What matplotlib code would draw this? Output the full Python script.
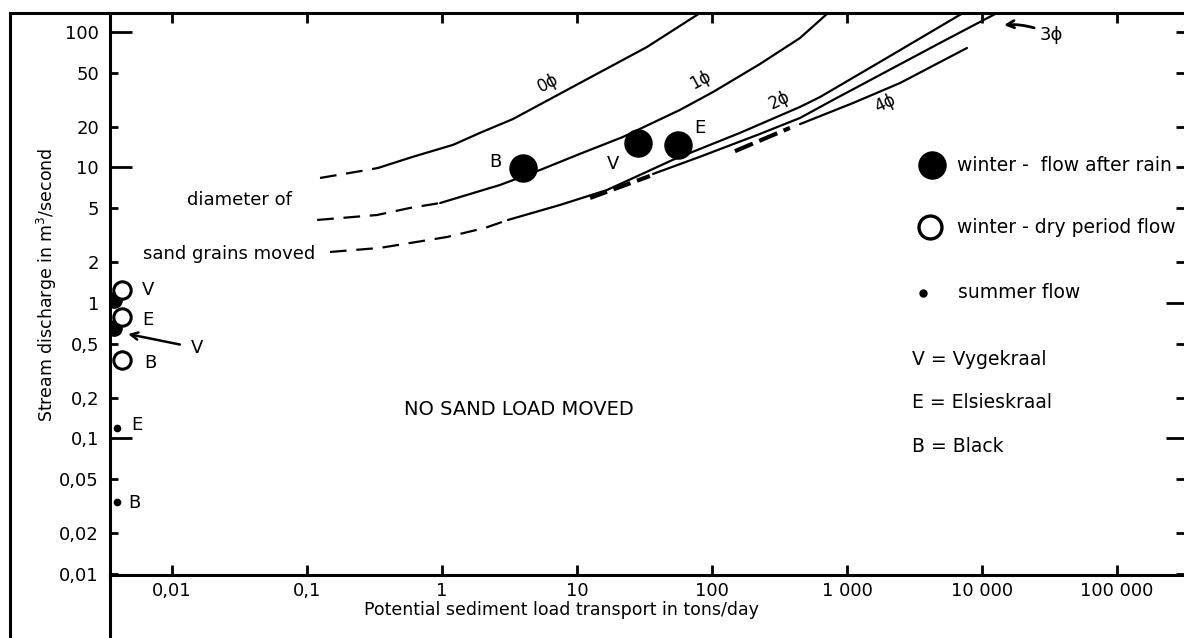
"""Sediment transport vs stream discharge (log-log), redrawn from a scanned figure."""

import matplotlib

matplotlib.use("Agg")

import matplotlib.pyplot as plt  # noqa: E402
from matplotlib.lines import Line2D  # noqa: E402
from matplotlib.ticker import NullLocator  # noqa: E402

plt.rcParams["font.family"] = ["DejaVu Sans"]
plt.rcParams["lines.scale_dashes"] = False

W, H = 1184, 638

X_TICKS = [0.01, 0.1, 1, 10, 100, 1000, 10000, 100000]
X_TICK_LABELS = ["0,01", "0,1", "1", "10", "100", "1 000", "10 000", "100 000"]
Y_TICKS = [100, 50, 20, 10, 5, 2, 1, 0.5, 0.2, 0.1, 0.05, 0.02, 0.01]
Y_TICK_LABELS = ["100", "50", "20", "10", "5", "2", "1", "0,5", "0,2", "0,1",
                 "0,05", "0,02", "0,01"]

# grain-size threshold curves (dashed lead-in + solid part)
PHI0_DASH_X = [0.125, 0.278, 0.336]
PHI0_DASH_Y = [8.37, 9.58, 9.92]
PHI0_X = [0.336, 0.61, 1.21, 1.91, 3.36, 10.5, 33.0, 81.5]
PHI0_Y = [9.92, 12.0, 14.7, 18.0, 22.8, 42.0, 77.5, 138]

PHI1_DASH_X = [0.119, 0.33, 0.58, 0.97]
PHI1_DASH_Y = [4.10, 4.46, 5.03, 5.47]
PHI1_X = [0.97, 2.69, 5.32, 10.5, 21.9, 57.9, 102, 227, 449, 723]
PHI1_Y = [5.47, 7.43, 9.58, 12.6, 16.8, 26.6, 36.1, 58.1, 90.3, 138]

PHI2_DASH_X = [0.148, 0.347, 1.09, 2.08, 3.08]
PHI2_DASH_Y = [2.38, 2.55, 3.07, 3.58, 4.10]
PHI2_X = [3.08, 7.48, 16.7, 51.4, 161, 449, 631, 1755, 7230]
PHI2_Y = [4.10, 5.29, 6.82, 11.4, 18.0, 28.0, 33.1, 60.1, 138]

PHI3_DASH_X = [12.5, 20.8, 34.7]
PHI3_DASH_Y = [5.96, 7.18, 8.66]
PHI3_X = [36.6, 81.5, 227, 449, 788, 1755, 4887, 12910]
PHI3_Y = [8.96, 12.0, 17.7, 23.2, 31.5, 48.2, 83.0, 138]

PHI4_DASH_X = [148, 378]
PHI4_DASH_Y = [13.2, 19.6]
PHI4_X = [449, 1108, 2470, 7744]
PHI4_Y = [20.9, 29.9, 42.0, 76.2]

# observations
WINTER_RAIN_X = [3.98, 28.3, 56.0]
WINTER_RAIN_Y = [9.92, 15.2, 14.7]
WINTER_RAIN_LABELS = ["B", "V", "E"]

WINTER_DRY_X = [0.0043, 0.0043, 0.0043]
WINTER_DRY_Y = [1.25, 0.79, 0.38]
WINTER_DRY_LABELS = ["V", "E", "B"]

SUMMER_X = [0.0039, 0.0039]
SUMMER_Y = [0.119, 0.034]
SUMMER_LABELS = ["E", "B"]

AXIS_BLOB_X = [0.0037, 0.0037]
AXIS_BLOB_Y = [1.05, 0.65]


def _curve(ax, dx, dy, sx, sy, dash_lw=1.6, dashes=(12, 7)):
    ax.plot(dx, dy, color="k", lw=dash_lw, dashes=dashes, dash_capstyle="butt", zorder=2)
    ax.plot(sx, sy, color="k", lw=1.6, solid_capstyle="round", zorder=2)


def _label_points(ax, xs, ys, labels, offsets):
    for x, y, lab, off in zip(xs, ys, labels, offsets):
        ax.annotate(lab, (x, y), xytext=off, textcoords="offset pixels",
                    ha="center", va="center", fontsize=13)


def main():
    fig = plt.figure(figsize=(W / 100, H / 100), dpi=100)
    # right edge sits a few pixels past the page, as in the cropped scan
    ax = fig.add_axes([110 / W, 63 / H, 1080 / W, 562 / H])
    ax.set_xscale("log")
    ax.set_yscale("log")
    ax.set_xlim(10 ** -2.459, 10 ** 5.541)
    ax.set_ylim(10 ** -2.0074, 10 ** 2.1402)

    _curve(ax, PHI0_DASH_X, PHI0_DASH_Y, PHI0_X, PHI0_Y)
    _curve(ax, PHI1_DASH_X, PHI1_DASH_Y, PHI1_X, PHI1_Y)
    _curve(ax, PHI2_DASH_X, PHI2_DASH_Y, PHI2_X, PHI2_Y)
    _curve(ax, PHI3_DASH_X, PHI3_DASH_Y, PHI3_X, PHI3_Y, dash_lw=3.0, dashes=(13, 5))
    _curve(ax, PHI4_DASH_X, PHI4_DASH_Y, PHI4_X, PHI4_Y, dash_lw=3.0, dashes=(14, 5))

    ax.plot(AXIS_BLOB_X, AXIS_BLOB_Y, "o", color="k", ms=11, zorder=3)
    ax.plot(WINTER_DRY_X, WINTER_DRY_Y, "o", mfc="white", mec="k", mew=2.2,
            ms=12.5, zorder=4)
    ax.plot(WINTER_RAIN_X, WINTER_RAIN_Y, "o", color="k", ms=19.5, zorder=4)
    ax.plot(SUMMER_X, SUMMER_Y, "o", color="k", ms=4.5, zorder=4)

    _label_points(ax, WINTER_RAIN_X, WINTER_RAIN_Y, WINTER_RAIN_LABELS,
                  [(-28, 6), (-25, -21), (22, 17)])
    _label_points(ax, WINTER_DRY_X, WINTER_DRY_Y, WINTER_DRY_LABELS,
                  [(26, 0), (25, -3), (28, -3)])
    _label_points(ax, SUMMER_X, SUMMER_Y, SUMMER_LABELS, [(20, 3), (18, -1)])

    # curve labels (axes fractions)
    fx_ax = 1080 / 1074
    for txt, xa, ya, rot in [("0ϕ", 0.4078, 0.8754, 28), ("1ϕ", 0.5493, 0.8808, 28),
                             ("2ϕ", 0.6238, 0.8452, 26), ("4ϕ", 0.7216, 0.8399, 25)]:
        ax.text(xa / fx_ax, ya, txt, transform=ax.transAxes, rotation=rot, fontsize=12,
                ha="center", va="center")
    ax.annotate("3ϕ", xy=(0.8324 / fx_ax, 0.9786), xycoords="axes fraction",
                xytext=(0.8655 / fx_ax, 0.9609), textcoords="axes fraction",
                ha="left", va="center", fontsize=13,
                arrowprops=dict(arrowstyle="->", lw=2, color="k",
                                connectionstyle="arc3,rad=0.15", shrinkA=2, shrinkB=0))
    ax.annotate("V", xy=(0.0168 / fx_ax, 0.4288), xycoords="axes fraction",
                xytext=(0.081 / fx_ax, 0.4039), textcoords="axes fraction",
                ha="center", va="center", fontsize=13,
                arrowprops=dict(arrowstyle="->", lw=1.8, color="k", shrinkA=6, shrinkB=0))

    ax.text(0.0717 / fx_ax, 0.6673, "diameter of", transform=ax.transAxes, fontsize=13,
            ha="left", va="center")
    ax.text(0.0307 / fx_ax, 0.5712, "sand grains moved", transform=ax.transAxes,
            fontsize=13, ha="left", va="center")
    ax.text(0.3807 / fx_ax, 0.2936, "NO SAND LOAD MOVED", transform=ax.transAxes,
            fontsize=14, ha="center", va="center")

    # hand-placed key
    ax.plot([0.7654 / fx_ax], [0.7295], "o", color="k", ms=19.5, transform=ax.transAxes,
            clip_on=False)
    ax.plot([0.7635 / fx_ax], [0.6192], "o", mfc="white", mec="k", mew=2.4, ms=16.5,
            transform=ax.transAxes, clip_on=False)
    ax.plot([0.7570 / fx_ax], [0.5018], "o", color="k", ms=5, transform=ax.transAxes,
            clip_on=False)
    for txt, xa, ya in [("winter -  flow after rain", 0.7886, 0.7295),
                        ("winter - dry period flow", 0.7886, 0.6192),
                        ("summer flow", 0.7896, 0.5018),
                        ("V = Vygekraal", 0.7472, 0.3826),
                        ("E = Elsieskraal", 0.7472, 0.3078),
                        ("B = Black", 0.7472, 0.2278)]:
        ax.text(xa / fx_ax, ya, txt, transform=ax.transAxes, fontsize=13.5,
                ha="left", va="center")

    # axes and ticks
    ax.set_xticks(X_TICKS, X_TICK_LABELS)
    ax.set_yticks(Y_TICKS, Y_TICK_LABELS)
    ax.xaxis.set_minor_locator(NullLocator())
    ax.yaxis.set_minor_locator(NullLocator())
    ax.tick_params(axis="x", which="major", direction="in", length=7, width=2,
                   top=True, bottom=True, labelsize=13, pad=5)
    ax.tick_params(axis="y", which="major", direction="in", length=6, width=2,
                   left=True, right=True, labelsize=13, pad=8)
    for tick, val in zip(ax.yaxis.get_major_ticks(), Y_TICKS):
        if val in (100, 10, 0.1):
            tick.tick1line.set_markersize(16)
        # right spine is off the page, so its ticks need extra length
        tick.tick2line.set_markersize(17 if val in (1, 0.1) else 10)
    for sp in ax.spines.values():
        sp.set_linewidth(2.2)

    # scan frame and extended y-axis
    fx = 10 / W
    ax_x = 110 / W
    ftop = 1 - 13 / H
    fig.add_artist(Line2D([fx, fx], [0, ftop], transform=fig.transFigure, color="k", lw=2.2))
    fig.add_artist(Line2D([fx, ax_x], [ftop, ftop], transform=fig.transFigure, color="k", lw=2.2))
    fig.add_artist(Line2D([ax_x, ax_x], [0, 63 / H], transform=fig.transFigure, color="k", lw=2.2))

    fig.text(47 / W, 1 - 285 / H, "Stream discharge in m$^3$/second", rotation=90,
             ha="center", va="center", fontsize=12.5)
    fig.text(561 / W, 1 - 610 / H, "Potential sediment load transport in tons/day",
             ha="center", va="center", fontsize=12.5)

    fig.savefig("out.png", dpi=100)
    plt.close(fig)


if __name__ == "__main__":
    main()
